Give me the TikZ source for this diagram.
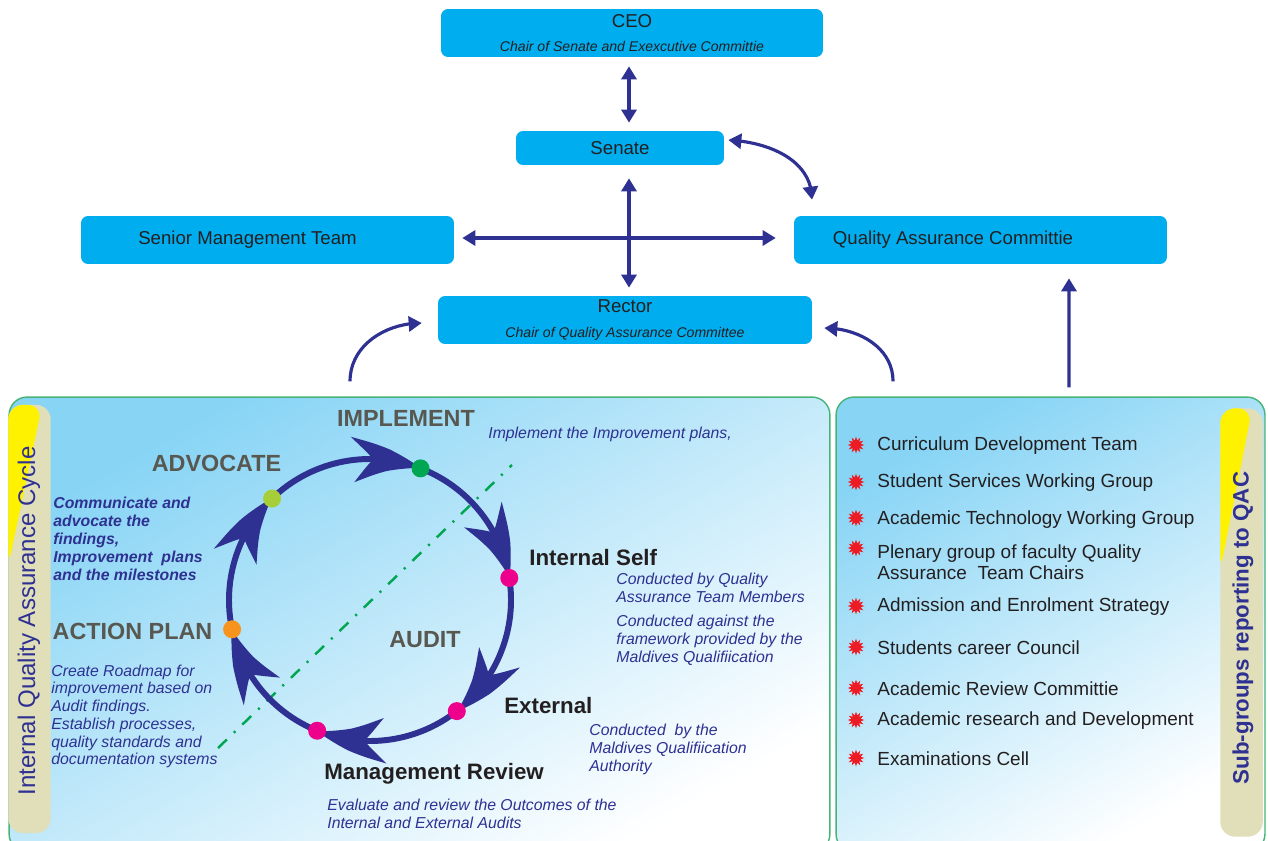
\documentclass[tikz,border=0pt]{standalone}
\usepackage{fontspec}
\setmainfont{Liberation Sans}
\usetikzlibrary{arrows.meta,bending,positioning,shapes.geometric,calc}

\definecolor{boxcyan}{RGB}{0,174,239}
\definecolor{navy}{RGB}{46,49,146}
\definecolor{stagegray}{RGB}{88,88,80}
\definecolor{inkblack}{RGB}{35,31,32}
\definecolor{panelblue}{RGB}{135,212,245}
\definecolor{panelline}{RGB}{70,180,120}
\definecolor{barkhaki}{RGB}{224,223,186}
\definecolor{baryellow}{RGB}{255,242,0}
\definecolor{bulletred}{RGB}{237,28,36}
\definecolor{dotlime}{RGB}{166,206,57}
\definecolor{dotgreen}{RGB}{0,166,81}
\definecolor{dotpink}{RGB}{236,0,140}
\definecolor{dotorange}{RGB}{247,148,29}

\begin{document}
\begin{tikzpicture}[
    x=0.02cm, y=0.02cm,
    font=\fontsize{10.6}{13}\selectfont,
    unit/.style={
        rectangle,
        rounded corners=0.14cm,
        fill=boxcyan,
        text=inkblack,
        align=center,
        inner sep=0pt
    },
    link/.style={{Triangle[length=2.6mm,width=3mm]}-{Triangle[length=2.6mm,width=3mm]}, line width=1.8pt, draw=navy},
    feed/.style={-{Triangle[length=2.6mm,width=3mm]}, line width=1.8pt, draw=navy},
    panel/.style={
        rectangle,
        rounded corners=0.36cm,
        draw=panelline,
        line width=0.8pt,
        top color=panelblue,
        bottom color=white,
        shading angle=30,
        minimum height=9.1cm
    },
    sidebar/.style={
        rectangle,
        rounded corners=0.3cm,
        fill=barkhaki,
        minimum width=0.85cm,
        minimum height=8.57cm,
        inner sep=0pt
    },
    stage/.style={font=\bfseries\fontsize{13.3}{15}\selectfont, text=stagegray, inner sep=0pt},
    audit/.style={font=\bfseries\fontsize{12.7}{15}\selectfont, text=inkblack, inner sep=0pt, anchor=west},
    note/.style={font=\itshape\fontsize{9}{10.2}\selectfont, text=navy, align=left, inner sep=0pt, anchor=west},
    member/.style={font=\fontsize{10.8}{12}\selectfont, text=inkblack, align=left, inner sep=0pt, anchor=west},
    bullet/.style={star, star points=12, star point ratio=1.8, fill=bulletred, inner sep=0pt, minimum size=0.34cm},
    cyc/.style={-{Stealth[length=1.4cm,width=0.9cm,inset=0.42cm,bend]}, line width=3.4pt, draw=navy},
    dot/.style={circle, inner sep=0pt, minimum size=0.36cm}
]

\useasboundingbox (0,0) rectangle (1268,840);
\clip (0,0) rectangle (1268,840);

% =========================================================
% Governance boxes
% =========================================================
\node[unit, minimum width=7.64cm, minimum height=0.96cm] (ceo) at (632,807)
    {CEO\\[1pt]{\itshape\fontsize{8}{10}\selectfont Chair of Senate and Exexcutive Committie}};
\node[unit, minimum width=4.16cm, minimum height=0.68cm] (senate) at (620,692) {Senate};
\node[unit, minimum width=7.46cm, minimum height=0.96cm] (smt) at (267.5,600) {\hspace*{-0.8cm}Senior Management Team};
\node[unit, minimum width=7.46cm, minimum height=0.96cm] (qac) at (980.5,600) {\hspace*{-1.1cm}Quality Assurance Committie};
\node[unit, minimum width=7.48cm, minimum height=0.96cm] (rector) at (625,520)
    {Rector\\[1pt]{\itshape\fontsize{8}{10}\selectfont Chair of Quality Assurance Committee}};

\coordinate (spine) at (629,0);

% Links between boxes
\draw[link, shorten <=0.18cm, shorten >=0.16cm] (ceo.south -| spine) -- (senate.north -| spine);
\draw[link, shorten <=0.26cm, shorten >=0.16cm] (senate.south -| spine) -- (rector.north -| spine);
\draw[link, shorten <=0.16cm, shorten >=0.36cm] ([yshift=0.04cm]smt.east) -- ([yshift=0.04cm]qac.west);
\draw[link] ([xshift=0.08cm,yshift=0.16cm]senate.east) to[out=-3, in=90] ([xshift=-3.37cm,yshift=0.32cm]qac.north);

% =========================================================
% Lower panels
% =========================================================
\node[panel, minimum width=16.42cm] (iqa) at (419.5,215.5) {};
\node[panel, minimum width=8.58cm] (sub) at (1050.5,215.5) {};

% Reporting arrows
\draw[feed] ([xshift=-1.39cm,yshift=0.3cm]iqa.north) to[out=90, in=180] ([xshift=-0.32cm,yshift=-0.06cm]rector.west);
\draw[feed] ([xshift=-3.15cm,yshift=0.3cm]sub.north) to[out=90, in=0] ([xshift=0.24cm,yshift=-0.16cm]rector.east);
\draw[feed] ([xshift=0.37cm,yshift=0.18cm]sub.north) -- ([xshift=1.77cm,yshift=-0.28cm]qac.south);

% Side bars
\node[sidebar, path picture={\fill[baryellow] (path picture bounding box.north west) -- ++(34,0) -- ++(-34,-161) -- cycle;}] (leftbar) at (29.5,221) {};
\node[sidebar, path picture={\fill[baryellow] (path picture bounding box.north west) -- ++(32,0) -- ++(-32,-162) -- cycle;}] (rightbar) at (1241.5,217.5) {};
\node[rotate=90, font=\fontsize{13.7}{16}\selectfont, text=navy] (iqatitle) at (29,219) {Internal Quality Assurance Cycle};
\node[rotate=90, font=\bfseries\fontsize{12.7}{15}\selectfont, text=navy] (subtitle) at (1243,212) {Sub-groups reporting to QAC};

% =========================================================
% Quality cycle
% =========================================================
\coordinate (hub) at (370,240);

\draw[dotgreen, line width=1.4pt, dash pattern=on 7pt off 5.5pt on 1.2pt off 5.5pt] (218,92) -- (512,375);

\draw[cyc] ($(hub)+(192:141)$) arc[start angle=192, end angle=134, radius=141];
\draw[cyc] ($(hub)+(134:141)$) arc[start angle=134, end angle=69, radius=141];
\draw[cyc] ($(hub)+(69:141)$) arc[start angle=69, end angle=9, radius=141];
\draw[cyc] ($(hub)+(9:141)$) arc[start angle=9, end angle=-52, radius=141];
\draw[cyc] ($(hub)+(-52:141)$) arc[start angle=-52, end angle=-112, radius=141];
\draw[cyc] ($(hub)+(248:141)$) arc[start angle=248, end angle=192, radius=141];

\node[dot, fill=dotorange] (plan) at ($(hub)+(192:141)$) {};
\node[dot, fill=dotlime] (advocate) at ($(hub)+(134:141)$) {};
\node[dot, fill=dotgreen] (implement) at ($(hub)+(69:141)$) {};
\node[dot, fill=dotpink] (selfaudit) at ($(hub)+(9:141)$) {};
\node[dot, fill=dotpink] (extaudit) at ($(hub)+(-52:141)$) {};
\node[dot, fill=dotpink] (review) at ($(hub)+(-112:141)$) {};

% Stage names
\node[stage] (implementlbl) at (406,422) {IMPLEMENT};
\node[stage] (advocatelbl) at (216.5,377) {ADVOCATE};
\node[stage] (planlbl) at (132.5,209) {ACTION PLAN};
\node[stage] (auditlbl) at (425,200) {AUDIT};
\node[audit] (selflbl) at (529,282) {Internal Self};
\node[audit] (extlbl) at (504,134) {External};
\node[audit] (reviewlbl) at (324,66) {Management Review};

% Stage notes
\node[note] (implementnote) at (488,406) {Implement the Improvement plans,};
\node[note, font=\bfseries\itshape\fontsize{9}{10.2}\selectfont] (advocatenote) at (53,301)
    {Communicate and\\advocate the\\findings,\\Improvement\ \ plans\\and the milestones};
\node[note, font=\itshape\fontsize{9}{10.1}\selectfont] (plannote) at (51,123.5)
    {Create Roadmap for\\improvement based on\\Audit findings.\\Establish processes,\\quality standards and\\documentation systems};
\node[note] (selfnote) at (616,252) {Conducted by Quality\\Assurance Team Members};
\node[note] (framenote) at (616,200) {Conducted against the\\framework provided by the\\Maldives Qualifiication};
\node[note] (extnote) at (589,91) {Conducted\ \ by the\\Maldives Qualifiication\\Authority};
\node[note] (reviewnote) at (327,26.5) {Evaluate and review the Outcomes of the\\Internal and External Audits};

% =========================================================
% Sub-groups
% =========================================================
\node[bullet] (b1) at (856,395) {};
\node[member] (g1) at (877,394) {Curriculum Development Team};
\node[bullet] (b2) at (856,358) {};
\node[member] (g2) at (877,357) {Student Services Working Group};
\node[bullet] (b3) at (856,322) {};
\node[member] (g3) at (877,320) {Academic Technology Working Group};
\node[bullet] (b4) at (856,292) {};
\node[member] (g4) at (877,277.5) {Plenary group of faculty Quality\\Assurance\ \ Team Chairs};
\node[bullet] (b5) at (856,234) {};
\node[member] (g5) at (877,233) {Admission and Enrolment Strategy};
\node[bullet] (b6) at (856,193) {};
\node[member] (g6) at (877,192) {Students career Council};
\node[bullet] (b7) at (856,152) {};
\node[member] (g7) at (877,151) {Academic Review Committie};
\node[bullet] (b8) at (856,120) {};
\node[member] (g8) at (877,119) {Academic research and Development};
\node[bullet] (b9) at (856,82) {};
\node[member] (g9) at (877,81) {Examinations Cell};

\end{tikzpicture}
\end{document}
